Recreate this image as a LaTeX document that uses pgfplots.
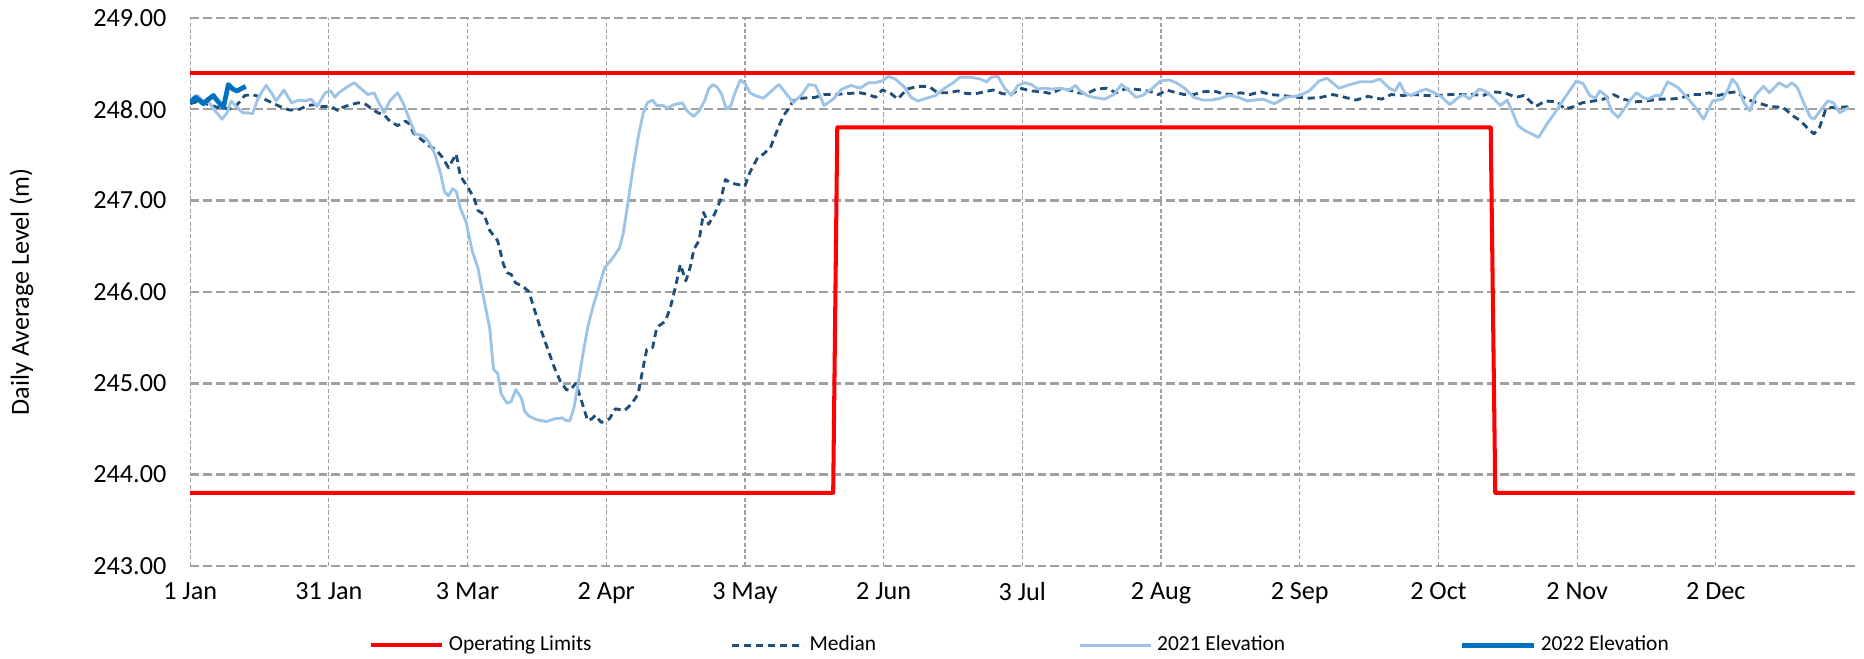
\documentclass[border=0pt]{standalone}
\usepackage{fontspec}
\setmainfont{Carlito}
\usepackage{pgfplots}
\pgfplotsset{compat=1.18}
\definecolor{oplim}{HTML}{FF0000}
\definecolor{medc}{HTML}{1F4E79}
\definecolor{eA}{HTML}{9DC3E6}
\definecolor{eB}{HTML}{0070C0}
\definecolor{gridgray}{HTML}{A0A0A0}
\begin{document}
\begin{tikzpicture}
\begin{axis}[
  at={(0,0)}, anchor=south west,
  width=700pt, height=230.5pt, scale only axis,
  xmin=0, xmax=366, ymin=243, ymax=249,
  xtick={0,30.5,61,91.5,122,152.5,183,213.5,244,274.5,305,335.5},
  xticklabels={1 Jan,31 Jan,3 Mar,2 Apr,3 May,2 Jun,3 Jul,2 Aug,2 Sep,2 Oct,2 Nov,2 Dec},
  ytick={243,244,245,246,247,248,249},
  /pgf/number format/assume math mode=true,
  /pgf/number format/fixed, /pgf/number format/fixed zerofill,
  /pgf/number format/precision=2, /pgf/number format/1000 sep={},
  yticklabel style={/pgf/number format/fixed, /pgf/number format/fixed zerofill, /pgf/number format/precision=2, /pgf/number format/1000 sep={}, /pgf/number format/assume math mode=true, xshift=-6.5pt},
  xticklabel style={yshift=-3.5pt},
  ticklabel style={font=\fontsize{11}{13}\selectfont},
  axis line style={draw=none}, major tick length=0pt, tick style={draw=none},
  xmajorgrids, ymajorgrids,
  x grid style={gridgray, line width=0.5pt, dash pattern=on 1.7pt off 1pt},
  y grid style={gridgray, line width=1.1pt, dash pattern=on 3.7pt off 1.7pt},
  ylabel={Daily Average Level (m)},
  ylabel style={at={(axis description cs:-0.1014,0.5)}, anchor=center, font=\fontsize{11}{13}\selectfont},
  legend columns=4,
  legend style={at={(0.5,-0.145)}, xshift=-0.5pt, anchor=center, draw=none, fill=none, font=\fontsize{9}{11}\selectfont,
    /tikz/column 2/.style={column sep=56.5pt},
    /tikz/column 4/.style={column sep=83pt},
    /tikz/column 6/.style={column sep=71.5pt}},
  legend image code/.code={\draw[#1] (0pt,0pt) -- (30pt,0pt);},
  line join=round,
]
\addplot[oplim, line width=1.7pt] coordinates {(0,243.8) (141.4,243.8) (142.3,247.8) (286,247.8) (287,243.8) (366,243.8)};
\addlegendentry{Operating Limits}
\addplot[oplim, line width=1.7pt, forget plot] coordinates {(0,248.4) (366,248.4)};
\addplot[medc, line width=1.2pt, dash pattern=on 3pt off 2pt] coordinates {
(0,248.06) (2,248.09) (4,248.05) (6,248.02) (7.7,248.01) (9.4,248.00) (10.7,248.07) (12,248.15)
(13.7,248.16) (15,248.14) (16.3,248.11) (18,248.07) (19.7,248.03) (21.9,247.99) (24.1,248.00)
(25.8,248.04) (27.5,248.05) (28.8,248.03) (30.9,248.03) (32.7,247.98) (33.5,248.02) (35.3,248.05)
(37,248.07) (38.7,248.05) (40,248.00) (41.3,247.96) (42.6,247.94) (43.9,247.87) (45.6,247.82)
(47.3,247.87) (48.2,247.84) (49.1,247.74) (50.8,247.67) (52.5,247.60) (54.2,247.55) (55.5,247.47)
(56.8,247.36) (58.5,247.51) (59.4,247.27) (61.1,247.14) (62.4,247.03) (63.3,246.89) (64.6,246.85)
(65.9,246.67) (67.6,246.56) (68.9,246.30) (69.7,246.21) (70.6,246.19) (71.5,246.10) (73.2,246.06)
(74.5,246.00) (75.8,245.79) (77.1,245.59) (78.8,245.35) (80.1,245.17) (81.4,245.02) (82.7,244.93)
(83.5,244.92) (84.8,245.00) (86.1,244.80) (87.4,244.59) (88.3,244.61) (89.1,244.65) (90.4,244.57)
(92.2,244.61) (93.5,244.72) (95.5,244.70) (97,244.77) (98.5,244.88) (99.6,245.17) (100.4,245.37)
(101.7,245.39) (102.6,245.61) (104.5,245.68) (105.6,245.83) (106.7,246.05) (107.8,246.30) (109,246.12)
(109.9,246.26) (110.8,246.47) (111.9,246.56) (112.9,246.87) (114,246.74) (115.3,246.85) (116.8,247.03)
(117.7,247.23) (119,247.19) (122,247.16) (123.1,247.31) (124.8,247.47) (126.1,247.51) (127.6,247.58)
(129.5,247.82) (130.5,247.93) (131.5,248.00) (132.6,248.09) (134.5,248.12) (137.5,248.13) (139.4,248.16)
(141.4,248.16) (144.3,248.17) (147.3,248.18) (149.2,248.16) (150.7,248.13) (152.2,248.21) (154.1,248.17)
(155.6,248.11) (157.6,248.22) (160,248.25) (162.4,248.25) (164.4,248.18) (166.8,248.18) (168.8,248.20)
(170.8,248.17) (172.7,248.17) (174.7,248.19) (176.6,248.21) (178.6,248.17) (180.6,248.16) (182.5,248.23)
(185,248.20) (187.4,248.19) (189.4,248.17) (191.3,248.22) (193.3,248.21) (195.2,248.18) (197.2,248.17)
(199.2,248.22) (201.6,248.23) (203.6,248.18) (205.5,248.22) (207.5,248.22) (209.4,248.21) (211.4,248.19)
(212.9,248.16) (214.8,248.21) (216.8,248.18) (218.7,248.16) (220.7,248.16) (222.7,248.19) (225.1,248.20)
(227.1,248.17) (229.1,248.16) (231,248.18) (233,248.16) (235.4,248.19) (237.6,248.16) (240.1,248.15)
(243.6,248.13) (246.1,248.12) (248.7,248.13) (251.3,248.16) (253.9,248.13) (256.4,248.10) (259,248.14)
(262,248.11) (264.1,248.16) (266.7,248.15) (269.3,248.16) (271.8,248.15) (274.4,248.15) (277,248.16)
(279.6,248.16) (282.1,248.16) (284.3,248.15) (286.4,248.19) (289,248.18) (291.6,248.13) (293.3,248.15)
(295.9,248.03) (298,248.09) (300.6,248.08) (302.3,248.00) (304.4,248.03) (306.1,248.07) (308.7,248.09)
(310.8,248.11) (313,248.16) (315.1,248.11) (317.7,248.08) (320.3,248.09) (322.8,248.11) (325.4,248.11)
(327.6,248.12) (330.1,248.16) (332.3,248.16) (334,248.18) (336.1,248.15) (338.3,248.18) (340,248.19)
(342.1,248.11) (344.7,248.07) (347.3,248.03) (350.3,248.02) (352.4,247.93) (354.2,247.87) (355.9,247.78)
(357.1,247.73) (358.3,247.80) (359.7,248.00) (361,248.02) (362.7,248.02) (365.4,248.03)};
\addlegendentry{Median}
\addplot[eA, line width=1.2pt] coordinates {
(0,248.11) (1.6,248.15) (2.9,248.09) (4.2,248.07) (5.5,247.98) (7,247.89) (8.1,247.96) (9,248.09)
(10.3,248.02) (11.6,247.96) (12.8,247.96) (13.7,247.95) (15,248.13) (16.7,248.26) (18,248.17) (18.9,248.09)
(20.6,248.21) (22.3,248.07) (24,248.10) (25.3,248.09) (26.6,248.11) (27.9,248.03) (29.7,248.18) (30.9,248.20)
(31.8,248.13) (32.7,248.18) (34.4,248.24) (36.1,248.29) (37.4,248.23) (39.1,248.16) (40.4,248.18) (41.3,248.09)
(42.6,247.96) (43.9,248.09) (45.6,248.18) (46.9,248.06) (48.2,247.89) (49.5,247.73) (51.2,247.71) (52.5,247.64)
(53.8,247.51) (55.1,247.29) (55.9,247.10) (56.8,247.05) (57.7,247.13) (58.5,247.10) (59.4,246.92) (60.7,246.76)
(62,246.45) (63.3,246.26) (64.1,246.04) (65,245.82) (65.9,245.59) (66.7,245.15) (67.6,245.11) (68.4,244.88)
(69.7,244.78) (70.6,244.80) (71.6,244.93) (72.8,244.84) (73.6,244.69) (74.5,244.64) (76.2,244.60) (78.4,244.58)
(80.1,244.61) (81.8,244.62) (82.7,244.59) (83.5,244.59) (84.4,244.73) (85.3,244.99) (86.1,245.24) (87.4,245.61)
(88.7,245.86) (89.6,246.00) (91.1,246.26) (92.9,246.37) (94.4,246.48) (95.2,246.63) (96.3,246.99) (97.4,247.36)
(98.5,247.69) (99.6,247.95) (100.5,248.07) (101.7,248.10) (102.6,248.04) (104,248.04) (104.9,248.01) (106.4,248.05)
(108.2,248.07) (109.3,247.98) (110.7,247.92) (111.9,247.98) (113.1,248.09) (114,248.22) (114.9,248.27) (115.9,248.24)
(116.9,248.16) (117.9,248.00) (118.9,248.04) (119.8,248.18) (121,248.32) (122,248.28) (123.1,248.18) (124.2,248.15)
(126.1,248.12) (127.4,248.18) (128.7,248.24) (129.5,248.27) (130.6,248.20) (132.6,248.07) (134.5,248.16) (136,248.27)
(137.5,248.26) (139.4,248.04) (141.4,248.11) (143.3,248.22) (145.3,248.26) (147.3,248.23) (149.2,248.29) (150.7,248.29)
(152.2,248.31) (153.6,248.36) (155.1,248.33) (157.1,248.24) (158.5,248.13) (160,248.09) (162,248.12) (163.9,248.15)
(165.9,248.23) (167.8,248.29) (169.3,248.35) (171.7,248.35) (173.7,248.33) (175.2,248.30) (176.1,248.35) (177.6,248.36)
(179.1,248.23) (180.6,248.15) (182,248.26) (183.5,248.29) (185,248.27) (186.4,248.22) (187.9,248.23) (189.4,248.22)
(191.3,248.23) (193.3,248.21) (194.7,248.26) (195.7,248.20) (197.2,248.15) (198.7,248.13) (201.1,248.11) (203.1,248.16)
(204.8,248.27) (206.5,248.20) (208,248.13) (209.4,248.15) (211.4,248.22) (213.4,248.31) (215.3,248.32) (216.8,248.29)
(218.7,248.23) (220.7,248.13) (222.7,248.10) (224.6,248.10) (226.6,248.12) (228.5,248.15) (230.5,248.13) (232.4,248.09)
(235.9,248.11) (238.4,248.06) (241,248.13) (244,248.15) (246.1,248.20) (248.3,248.31) (250,248.34) (252.6,248.23)
(255.1,248.27) (257.3,248.30) (259.9,248.30) (261.6,248.33) (263.7,248.23) (265,248.20) (266,248.29) (267.1,248.18)
(268.4,248.15) (270.1,248.19) (271.8,248.22) (273.6,248.18) (275.3,248.13) (277,248.05) (278.7,248.12) (280,248.16)
(281.3,248.11) (283.4,248.22) (284.7,248.20) (286.2,248.14) (288.1,248.04) (289.6,248.10) (290.7,247.98) (292,247.82)
(293.7,247.76) (295,247.73) (296.5,247.69) (298.4,247.84) (300.1,247.96) (301.8,248.09) (303.6,248.22) (304.8,248.31)
(306.3,248.28) (307.8,248.15) (309,248.12) (310,248.20) (311.3,248.15) (312.6,247.98) (314,247.91) (315.6,248.02)
(316.8,248.11) (318.1,248.18) (319.4,248.13) (320.6,248.11) (322.2,248.15) (323.4,248.15) (324.9,248.30) (327.1,248.24)
(328.8,248.15) (331,248.02) (332.8,247.89) (334.8,248.09) (337,248.11) (338.3,248.23) (339.1,248.33) (340.2,248.27)
(341.7,248.07) (343,247.98) (344.3,248.16) (346,248.25) (347.3,248.18) (349.4,248.29) (351.1,248.24) (352.2,248.29)
(353.4,248.24) (355,248.05) (356.3,247.91) (357.1,247.89) (358.4,247.98) (360.1,248.09) (361.4,248.07) (362.7,247.96)
(364.8,248.02)};
\addlegendentry{2021 Elevation}
\addplot[eB, line width=2pt] coordinates {
(0,248.07) (1.2,248.13) (2.9,248.06) (3.8,248.10) (5.1,248.15) (6,248.09) (7.3,248.02) (8.4,248.27)
(9.4,248.22) (10.3,248.20) (12.2,248.25)};
\addlegendentry{2022 Elevation}
\end{axis}
\pgfresetboundingbox
\path[use as bounding box] (-80pt,-39pt) rectangle (704pt,238pt);
\end{tikzpicture}
\end{document}
